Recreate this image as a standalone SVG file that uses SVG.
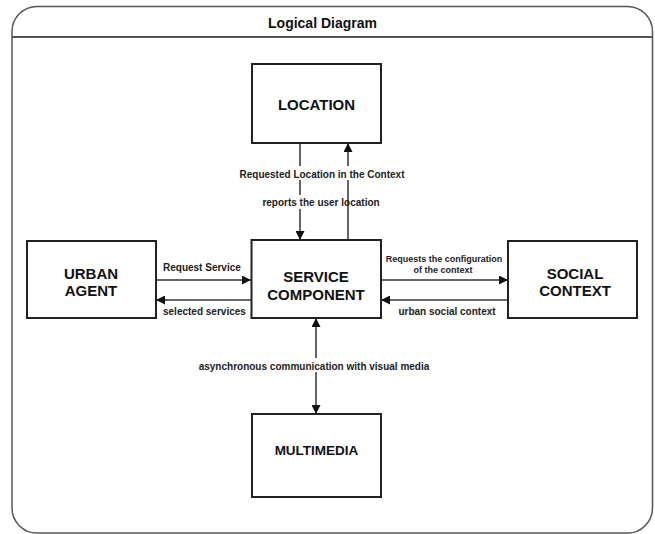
<svg xmlns="http://www.w3.org/2000/svg" width="655" height="534" viewBox="0 0 655 534">
<defs>
<marker id="ah" viewBox="0 0 10 10" refX="10" refY="5" markerWidth="9" markerHeight="9" markerUnits="userSpaceOnUse" orient="auto-start-reverse">
<path d="M0,0 L10,5 L0,10 Z" fill="#111"/>
</marker>
<style>
.frame{fill:#fff;stroke:#555;stroke-width:1.5}
.box{fill:#fff;stroke:#222;stroke-width:2}
.nt{font-family:"Liberation Sans",Arial,sans-serif;font-weight:bold;font-size:15px;fill:#111;text-anchor:middle}
.lb{font-family:"Liberation Sans",Arial,sans-serif;font-weight:bold;font-size:10px;fill:#222}
.sm{font-size:9px}
.c{text-anchor:middle}
.ln{stroke:#333;stroke-width:1.5;fill:none}
.bg{fill:#fff}
</style>
</defs>
<rect width="655" height="534" fill="#fff"/>
<g id="frame">
<rect class="frame" x="12" y="6.5" width="640.5" height="526.5" rx="25" ry="25"/>
<line x1="12" y1="37" x2="652.5" y2="37" stroke="#555" stroke-width="2"/>
<text x="322.5" y="28" font-family="'Liberation Sans',Arial,sans-serif" font-weight="bold" font-size="14" fill="#111" text-anchor="middle">Logical Diagram</text>
</g>
<g id="connectors">
<line class="ln" x1="300" y1="143" x2="300" y2="240" marker-end="url(#ah)"/>
<rect class="bg" x="262" y="195" width="80" height="14"/>
<line class="ln" x1="348" y1="240" x2="348" y2="143" marker-end="url(#ah)"/>
<rect class="bg" x="236" y="166" width="174" height="14"/>
<text class="lb c" x="322" y="177.5">Requested Location in the Context</text>
<text class="lb c" x="321" y="205.5">reports the user location</text>
<line class="ln" x1="156" y1="280" x2="251" y2="280" marker-end="url(#ah)"/>
<text class="lb" x="163" y="270.5">Request Service</text>
<line class="ln" x1="251" y1="300" x2="156" y2="300" marker-end="url(#ah)"/>
<text class="lb" x="163" y="314.5">selected services</text>
<line class="ln" x1="381" y1="280" x2="508" y2="280" marker-end="url(#ah)"/>
<text class="lb sm c" x="444" y="262">Requests the configuration</text>
<text class="lb sm c" x="443" y="273">of the context</text>
<line class="ln" x1="508" y1="300" x2="381" y2="300" marker-end="url(#ah)"/>
<text class="lb c" x="447" y="314.5">urban social context</text>
<line class="ln" x1="316" y1="318" x2="316" y2="414" marker-start="url(#ah)" marker-end="url(#ah)"/>
<rect class="bg" x="194" y="358" width="242" height="14"/>
<text class="lb c" x="314" y="369.5">asynchronous communication with visual media</text>
</g>
<g id="location">
<rect class="box" x="252" y="64" width="129" height="79"/>
<text class="nt" x="316.5" y="109.5">LOCATION</text>
</g>
<g id="service-component">
<rect class="box" x="251.5" y="240" width="129.5" height="78"/>
<text class="nt" x="316" y="282">SERVICE</text>
<text class="nt" x="316" y="299.5">COMPONENT</text>
</g>
<g id="urban-agent">
<rect class="box" x="27" y="241" width="129" height="77"/>
<text class="nt" x="91" y="278.5">URBAN</text>
<text class="nt" x="91" y="296">AGENT</text>
</g>
<g id="social-context">
<rect class="box" x="508" y="241" width="129" height="77"/>
<text class="nt" x="575" y="278.5">SOCIAL</text>
<text class="nt" x="575" y="296">CONTEXT</text>
</g>
<g id="multimedia">
<rect class="box" x="252" y="414" width="129" height="83"/>
<text class="nt" x="316.5" y="454.5" style="font-size:13.5px">MULTIMEDIA</text>
</g>
</svg>
